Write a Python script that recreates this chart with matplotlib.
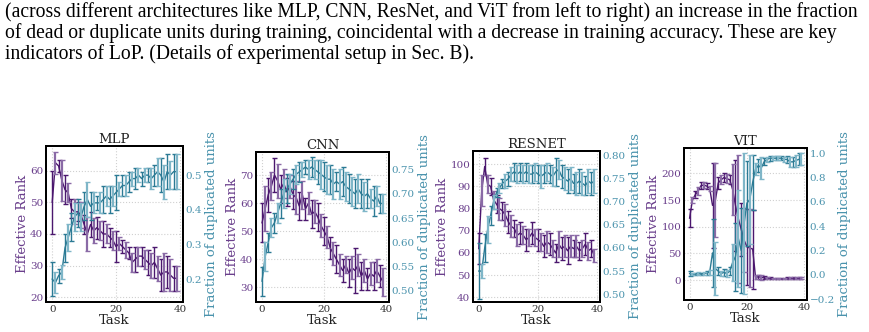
import numpy as np
import matplotlib
matplotlib.use("Agg")
import matplotlib.pyplot as plt

tasks = np.arange(40)

caption_lines = [
    "(across different architectures like MLP, CNN, ResNet, and ViT from left to right) an increase in the fraction",
    "of dead or duplicate units during training, coincidental with a decrease in training accuracy. These are key",
    "indicators of LoP. (Details of experimental setup in Sec. B).",
]

titles = ["MLP", "CNN", "RESNET", "VIT"]

# ---- MLP ----
mlp_rank = [50, 62.5, 61.5, 57, 54, 53, 48, 47, 47, 46, 43, 40, 43, 41, 42, 41, 40, 40, 39, 38,
            36, 37, 36, 35, 34, 31, 32, 33, 33, 32, 31, 30, 31, 29, 27, 28, 28, 27, 26, 26]
mlp_rank_err = [10, 3.5, 2, 6.5, 4.5, 3, 3, 4, 3, 4, 3, 5.5, 4, 4, 3.5, 3, 4, 3, 3, 3,
                5, 2, 2, 2.5, 2, 3, 4, 3, 3, 3, 4, 4, 5, 4, 5, 6, 5, 5, 4, 4]
mlp_dup = [0.20, 0.19, 0.21, 0.22, 0.29, 0.32, 0.35, 0.38, 0.39, 0.38, 0.41, 0.43, 0.41, 0.42, 0.42,
           0.42, 0.43, 0.44, 0.43, 0.44, 0.45, 0.46, 0.47, 0.47, 0.48, 0.49, 0.49, 0.50, 0.49, 0.50,
           0.50, 0.49, 0.50, 0.51, 0.50, 0.48, 0.51, 0.50, 0.51, 0.51]
mlp_dup_err = [0.05, 0.03, 0.02, 0.02, 0.04, 0.04, 0.04, 0.04, 0.04, 0.04, 0.04, 0.05, 0.04, 0.03, 0.02,
               0.03, 0.04, 0.03, 0.04, 0.03, 0.05, 0.02, 0.03, 0.03, 0.03, 0.02, 0.03, 0.02, 0.02, 0.02,
               0.02, 0.03, 0.03, 0.04, 0.05, 0.05, 0.05, 0.04, 0.05, 0.05]

# ---- CNN ----
cnn_rank = [53, 58, 63, 66, 70, 68, 65, 67, 64, 66, 63, 62, 59, 63, 58, 60, 56, 57, 55, 52,
            50, 48, 44, 42, 40, 38, 36, 38, 35, 37, 36, 38, 34, 36, 33, 35, 34, 36, 34, 32]
cnn_rank_err = [7, 8, 6, 5, 6, 6, 5, 5, 5, 4, 5, 6, 5, 5, 4, 4, 5, 4, 5, 4,
                5, 4, 4, 4, 5, 4, 4, 3, 5, 4, 8, 4, 5, 4, 4, 4, 5, 4, 4, 5]
cnn_dup = [0.52, 0.57, 0.60, 0.63, 0.64, 0.66, 0.68, 0.70, 0.71, 0.72, 0.73, 0.74, 0.745, 0.75, 0.755,
           0.75, 0.755, 0.75, 0.745, 0.74, 0.735, 0.73, 0.73, 0.72, 0.725, 0.72, 0.725, 0.715, 0.71, 0.705,
           0.70, 0.71, 0.70, 0.695, 0.70, 0.69, 0.685, 0.695, 0.68, 0.68]
cnn_dup_err = [0.03, 0.03, 0.02, 0.02, 0.02, 0.02, 0.03, 0.03, 0.03, 0.02, 0.02, 0.02, 0.02, 0.015, 0.015,
               0.02, 0.02, 0.02, 0.025, 0.03, 0.03, 0.03, 0.03, 0.03, 0.02, 0.03, 0.03, 0.03, 0.03, 0.03,
               0.03, 0.03, 0.03, 0.03, 0.03, 0.02, 0.03, 0.02, 0.02, 0.02]

# ---- RESNET ----
res_rank = [62, 88, 99, 91, 90, 84, 82, 80, 79, 77, 74, 72, 71, 68, 69, 68, 66, 67, 69, 67,
            66, 65, 63, 65, 64, 62, 60, 64, 62, 63, 61, 63, 62, 63, 61, 62, 64, 61, 62, 59]
res_rank_err = [7, 7, 4, 4, 4, 4, 4, 5, 4, 5, 5, 5, 4, 5, 5, 4, 5, 4, 5, 4,
                5, 4, 5, 5, 5, 4, 4, 6, 5, 5, 6, 5, 4, 5, 4, 4, 5, 4, 4, 3]
res_dup = [0.55, 0.55, 0.60, 0.64, 0.67, 0.70, 0.72, 0.73, 0.74, 0.745, 0.75, 0.76, 0.765, 0.76, 0.765,
           0.76, 0.765, 0.76, 0.76, 0.765, 0.76, 0.755, 0.76, 0.765, 0.76, 0.755, 0.765, 0.77, 0.755, 0.75,
           0.745, 0.75, 0.74, 0.74, 0.745, 0.74, 0.735, 0.745, 0.74, 0.745]
res_dup_err = [0.06, 0.015, 0.03, 0.03, 0.02, 0.015, 0.01, 0.01, 0.01, 0.015, 0.015, 0.015, 0.02, 0.02, 0.02,
               0.02, 0.02, 0.02, 0.02, 0.02, 0.02, 0.025, 0.02, 0.02, 0.02, 0.02, 0.03, 0.02, 0.025, 0.025,
               0.025, 0.025, 0.02, 0.025, 0.025, 0.025, 0.02, 0.025, 0.025, 0.025]

# ---- VIT ----
vit_rank = [116, 150, 160, 167, 177, 178, 176, 172, 140, 150, 182, 188, 192, 190, 188, 170, 140, 115, 95, 75,
            62, 60, 58, 5, 6, 5, 4, 3, 3, 2, 2, 2, 2, 2, 3, 3, 3, 3, 3, 3]
vit_rank_err = [17, 6, 6, 7, 6, 5, 6, 5, 80, 70, 12, 8, 8, 8, 8, 48, 85, 120, 50, 60,
                72, 74, 74, 4, 4, 5, 3, 2, 2, 1, 1, 1, 1, 1, 2, 2, 2, 2, 2, 2]
vit_dup = [0.01, 0.005, 0.005, 0.01, 0.005, 0.01, 0.015, 0.02, 0.18, 0.05, 0.03, 0.01, 0.02, 0.01, 0.03,
           0.10, 0.15, 0.30, 0.20, 0.42, 0.59, 0.62, 0.76, 0.87, 0.90, 0.88, 0.93, 0.95, 0.96, 0.96,
           0.96, 0.96, 0.96, 0.95, 0.95, 0.93, 0.93, 0.94, 0.95, 0.95]
vit_dup_err = [0.02, 0.01, 0.01, 0.01, 0.01, 0.01, 0.015, 0.02, 0.28, 0.22, 0.03, 0.02, 0.03, 0.03, 0.03,
               0.15, 0.28, 0.40, 0.35, 0.58, 0.35, 0.37, 0.23, 0.05, 0.05, 0.09, 0.03, 0.02, 0.02, 0.015,
               0.015, 0.015, 0.015, 0.02, 0.03, 0.04, 0.04, 0.05, 0.05, 0.05]

panels = [
    (mlp_rank, mlp_rank_err, mlp_dup, mlp_dup_err),
    (cnn_rank, cnn_rank_err, cnn_dup, cnn_dup_err),
    (res_rank, res_rank_err, res_dup, res_dup_err),
    (vit_rank, vit_rank_err, vit_dup, vit_dup_err),
]

left_ticks = [[20, 30, 40, 50, 60], [30, 40, 50, 60, 70], [40, 50, 60, 70, 80, 90, 100],
              [0, 50, 100, 150, 200]]
left_lims = [(18.5, 67.8), (24.8, 78.2), (37.9, 106), (-37.5, 247.5)]
right_ticks = [[0.2, 0.3, 0.4, 0.5], [0.50, 0.55, 0.60, 0.65, 0.70, 0.75],
               [0.50, 0.55, 0.60, 0.65, 0.70, 0.75, 0.80], [-0.2, 0.0, 0.2, 0.4, 0.6, 0.8, 1.0]]
right_fmt = ["{:.1f}", "{:.2f}", "{:.2f}", "{:.1f}"]
right_lims = [(0.134, 0.584), (0.477, 0.786), (0.483, 0.81), (-0.208, 1.044)]

# axes boxes in pixels: left, right, top, bottom
boxes = [(46, 183, 146, 302), (256, 389, 152, 302), (473, 600, 151, 302), (684, 807, 148, 300)]

W, H = 870, 332
fig = plt.figure(figsize=(W / 100, H / 100), dpi=100)

cap_font = ["Liberation Serif", "DejaVu Serif"]
for i, line in enumerate(caption_lines):
    fig.text(5 / W, 1 - (17.5 + 20.8 * i) / H, line, fontsize=14.1, family=cap_font,
             ha="left", va="baseline", color="black")

purple = "#4B176E"
purple_light = "#8A6AA6"
purple_txt = "#6A3F8C"
teal = "#2B7A94"
teal_light = "#7FB6C8"
teal_txt = "#4A93AD"

serif = ["DejaVu Serif"]


def draw_err(ax, x, y, e, dark, light):
    y = np.asarray(y, float)
    e = np.asarray(e, float)
    ax.plot(x, y, color=dark, lw=1.0, zorder=3)
    even = x % 2 == 0
    odd = ~even
    ax.errorbar(x[even], y[even], yerr=e[even], fmt="none", ecolor=dark, elinewidth=1.0,
                capsize=1.8, capthick=1.0, zorder=3)
    ax.errorbar(x[odd], y[odd], yerr=e[odd], fmt="none", ecolor=light, elinewidth=1.6,
                capsize=1.8, capthick=1.0, zorder=3)


for k, (rank, rerr, dup, derr) in enumerate(panels):
    l, r, t, b = boxes[k]
    ax = fig.add_axes([l / W, 1 - b / H, (r - l) / W, (b - t) / H])
    ax2 = ax.twinx()
    draw_err(ax, tasks, rank, rerr, purple, purple_light)
    draw_err(ax2, tasks, dup, derr, teal, teal_light)

    ax.set_xlim(-1.95, 40.95)
    ax.set_xticks([0, 20, 40])
    ax.set_ylim(*left_lims[k])
    ax.set_yticks(left_ticks[k])
    ax2.set_ylim(*right_lims[k])
    ax2.set_yticks(right_ticks[k])
    ax2.set_yticklabels([right_fmt[k].format(v).replace("-", "\u2212") for v in right_ticks[k]])

    ax.grid(True, color="#d0d0d0", linestyle=":", linewidth=0.8)
    ax.set_axisbelow(True)

    for a in (ax, ax2):
        for s in a.spines.values():
            s.set_linewidth(1.4)
            s.set_color("black")

    ax.tick_params(axis="x", length=0, pad=2, labelsize=7.5, labelcolor="#333333")
    ax.tick_params(axis="y", length=0, pad=2, labelsize=7.5, labelcolor=purple_txt)
    ax2.tick_params(axis="y", length=0, pad=2, labelsize=7.5, labelcolor=teal_txt)
    for lab in ax.get_xticklabels() + ax.get_yticklabels() + ax2.get_yticklabels():
        lab.set_family(serif)

    ax.set_xlabel("Task", fontsize=9.5, family=serif, labelpad=0, color="#222222")
    ax.set_ylabel("Effective Rank", fontsize=9.5, family=serif, labelpad=1, color=purple_txt)
    ax2.set_ylabel("Fraction of duplicated units", fontsize=9.5, family=serif, labelpad=2,
                   color=teal_txt)
    ax.set_title(titles[k], fontsize=9.5, family=serif, pad=2, color="#222222")

fig.savefig("out.png", dpi=100)
